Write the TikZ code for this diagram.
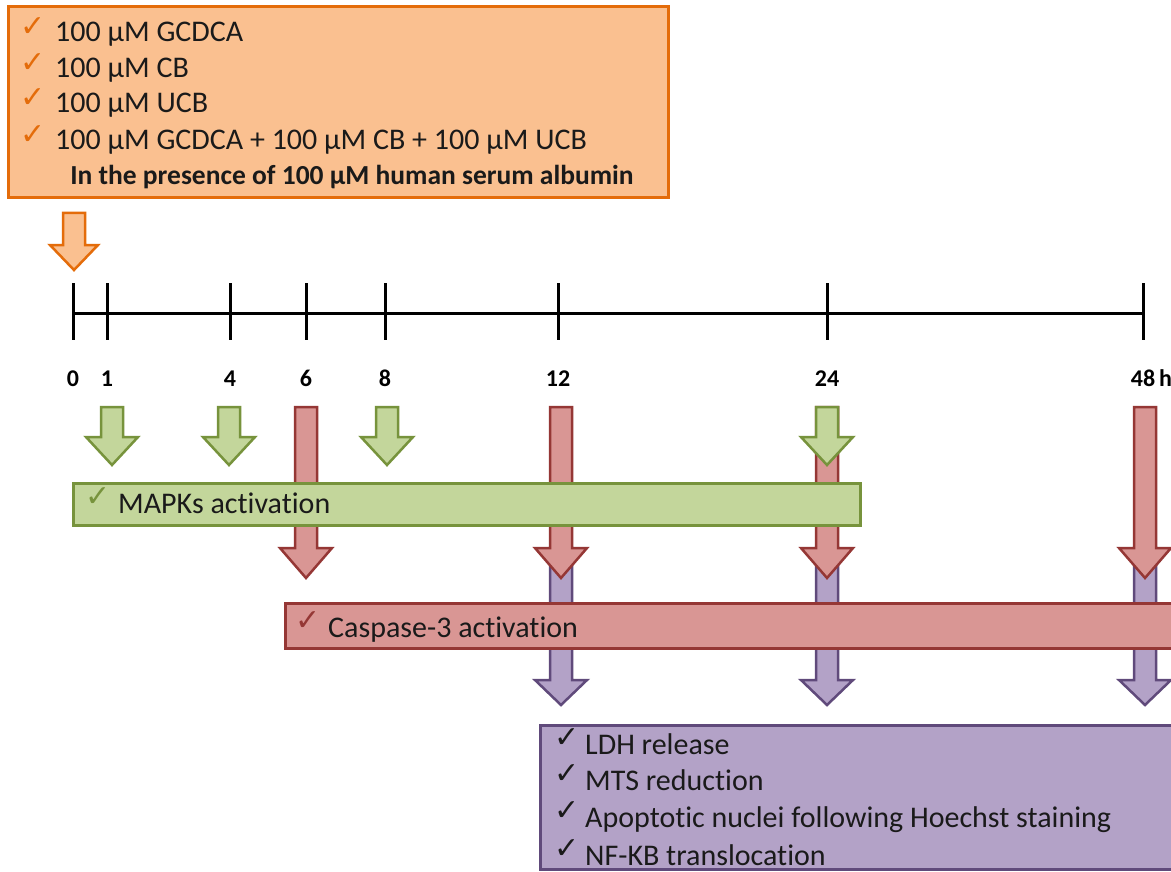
\documentclass[tikz,border=0pt]{standalone}
\usepackage{fontspec}
\setmainfont[Ligatures=NoCommon]{Carlito}
\newfontfamily\symfont{DejaVu Sans}
\definecolor{orfill}{HTML}{FAC090}
\definecolor{ordraw}{HTML}{E46C0A}
\definecolor{grfill}{HTML}{C3D69B}
\definecolor{grdraw}{HTML}{77933C}
\definecolor{rdfill}{HTML}{D99694}
\definecolor{rddraw}{HTML}{953735}
\definecolor{pufill}{HTML}{B3A2C7}
\definecolor{pudraw}{HTML}{604A7B}
\definecolor{txtcol}{HTML}{1A1A1A}
\tikzset{
  box/.style={line width=3pt},
  orbox/.style={box, fill=orfill, draw=ordraw},
  grbox/.style={box, fill=grfill, draw=grdraw},
  rdbox/.style={box, fill=rdfill, draw=rddraw},
  pubox/.style={box, fill=pufill, draw=pudraw},
  txt/.style={anchor=base west, inner sep=0pt, text=txtcol, font=\fontsize{30}{36}\selectfont},
  btxt/.style={anchor=base, inner sep=0pt, text=txtcol, font=\fontsize{27.5}{32}\selectfont\bfseries},
  lab/.style={anchor=base, inner sep=0pt, font=\fontsize{24}{28}\selectfont\bfseries},
  chk/.style={inner sep=0pt, font=\symfont\fontsize{30}{30}\selectfont},
  tick/.style={line width=3pt},
}
% block arrow: style, x, ytop, yhead, ytip, shaft half-width, head half-width
\newcommand\blockarrow[7]{%
  \draw[#1] (#2-#6,#3) -- (#2+#6,#3) -- (#2+#6,#4) -- (#2+#7,#4) -- (#2,#5)
    -- (#2-#7,#4) -- (#2-#6,#4) -- cycle;}
\begin{document}
\begin{tikzpicture}[x=1pt,y=-1pt]
\clip (0,0) rectangle (1171,872);
\fill[white] (0,0) rectangle (1171,872);

% top box
\draw[orbox] (8,7) rectangle (668,198);
\foreach \y/\t [count=\i] in {42/100 μM GCDCA, 78/100 μM CB, 113/100 μM UCB, 150/100 μM GCDCA + 100 μM CB + 100 μM UCB}{
  \node[chk, text=ordraw] (oc\i) at (33,\y-15) {✓};
  \node[txt] (ot\i) at (55,\y) {\t};
}
\node[btxt] (presence) at (352,185) {In the presence of 100 μM human serum albumin};

% orange arrow
\blockarrow{orbox, line width=2.5pt}{74}{213}{245}{270}{11}{24}

% timeline
\coordinate (t0) at (73,313);
\coordinate (tend) at (1145,313);
\draw[tick] (t0) -- (tend);
\foreach \x/\l/\n in {73/0/a,107/1/b,230/4/c,306/6/d,385/8/e,558/12/f,827/24/g,1143/48/h}{
  \draw[tick] (\x,283) -- (\x,340);
  \node[lab] (lab\n) at (\x,386) {\l};
}
\node[lab, anchor=base west] (hrs) at (1159,386) {h};

% purple arrows
\foreach \x in {561,827,1145}{
  \blockarrow{pubox, line width=2.5pt}{\x}{560}{680}{705}{11}{26}
}
% red arrows
\foreach \x in {306,561,827,1145}{
  \blockarrow{rdbox, line width=2.5pt}{\x}{407}{548}{578}{11}{26}
}
% green arrows
\foreach \x in {112,229,387,827}{
  \blockarrow{grbox, line width=2.5pt}{\x}{407}{437}{465}{11}{26}
}

% MAPKs box
\draw[grbox] (73,483) rectangle (860,525);
\node[chk, text=grdraw] (gc) at (98,497) {✓};
\node[txt] (gt) at (118,513) {MAPKs activation};

% Caspase box
\draw[rdbox] (285,603) rectangle (1185,648);
\node[chk, text=rddraw] (rc) at (308,621) {✓};
\node[txt] (rt) at (328,637) {Caspase-3 activation};

% purple box
\draw[pubox] (540,725) rectangle (1185,869);
\foreach \y/\t [count=\i] in {754/LDH release, 790/MTS reduction, 827/Apoptotic nuclei following Hoechst staining, 865/NF-KB translocation}{
  \node[chk, text=txtcol] (pc\i) at (567,\y-16) {✓};
  \node[txt] (pt\i) at (585,\y) {\t};
}
\end{tikzpicture}
\end{document}
